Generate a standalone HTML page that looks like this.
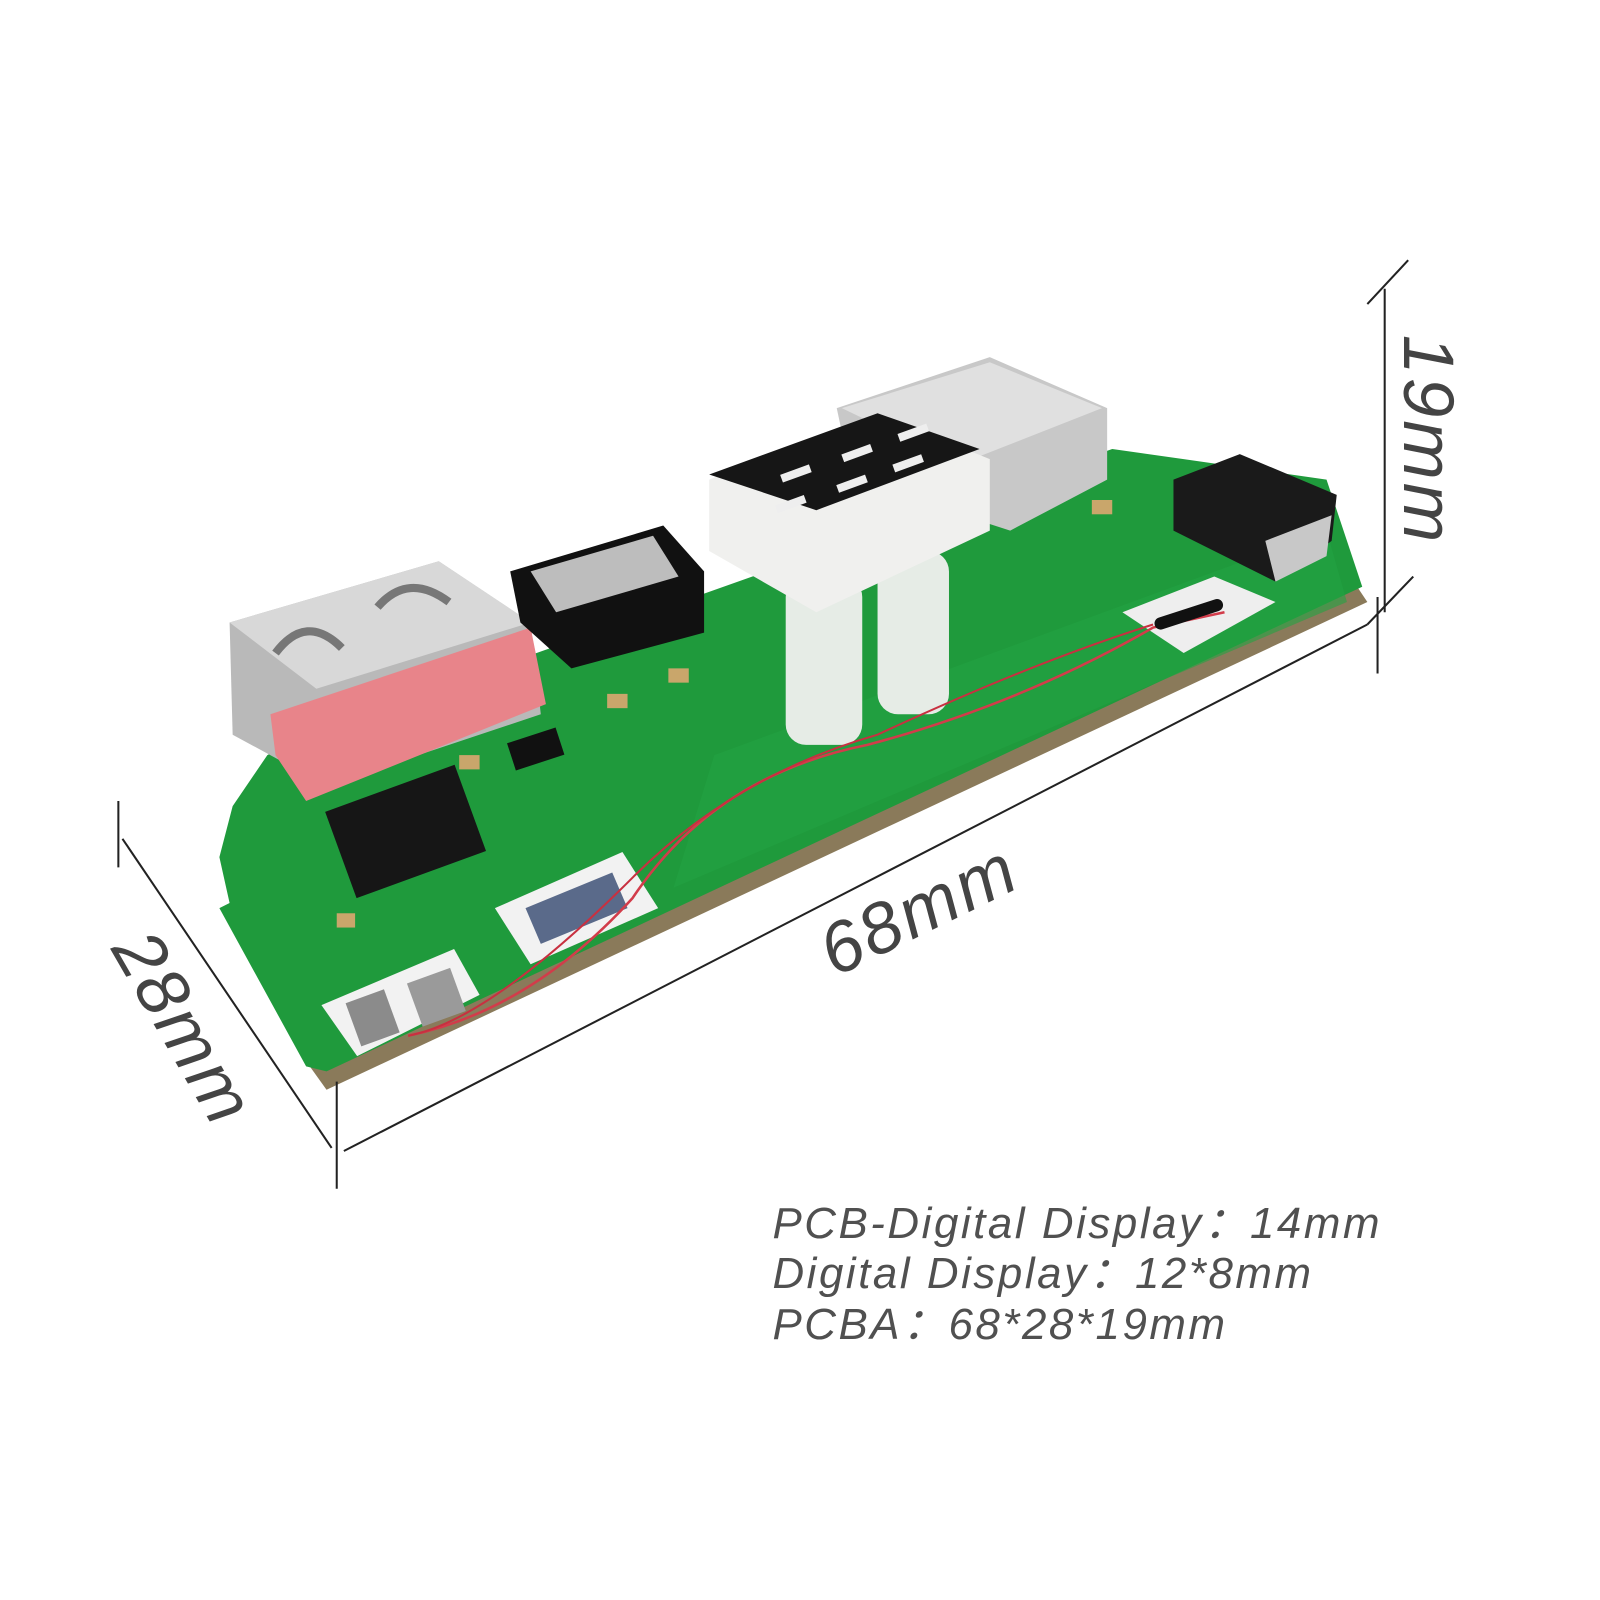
<!DOCTYPE html>
<html><head><meta charset="utf-8"><style>
html,body{margin:0;padding:0;background:#fff;width:1600px;height:1600px;overflow:hidden}
svg{display:block}
</style></head><body>
<svg width="1600" height="1600" viewBox="0 0 1568 1568" xmlns="http://www.w3.org/2000/svg">
<rect x="0" y="0" width="1568" height="1568" fill="#fff"/>
<polygon points="300,1040 320,1068 1340,590 1330,575" fill="#8a7a5a"/>
<path d="M300,1045 L215,890 L225,885 L215,840 L228,790 L262,740 L300,720 L1090,440 L1160,450 L1300,470 L1335,575 L320,1050 Z" fill="#1f9a3c"/>
<path d="M660,870 L1320,590 L1300,520 L700,740 Z" fill="#23a443" opacity="0.6"/>
<polygon points="315,985 445,930 470,975 350,1035" fill="#f2f2f2"/>
<rect x="345" y="975" width="40" height="45" fill="#8b8b8b" transform="rotate(-20 365 997)"/>
<rect x="405" y="955" width="45" height="45" fill="#9a9a9a" transform="rotate(-20 427 977)"/>
<polygon points="485,890 610,835 645,890 520,945" fill="#f2f2f2"/>
<polygon points="515,890 600,855 615,890 530,925" fill="#5a6a8a"/>
<polygon points="1100,600 1190,565 1250,590 1160,640" fill="#eee"/>
<polygon points="225,610 430,550 520,610 530,700 320,770 228,720" fill="#b9b9b9"/>
<polygon points="225,610 430,550 520,610 310,675" fill="#d8d8d8"/>
<path d="M270,640 Q300,600 335,635 M370,595 Q400,560 440,590" stroke="#777" stroke-width="8" fill="none"/>
<polygon points="265,700 520,615 535,690 300,785 270,740" fill="#e8848a"/>
<rect x="330" y="770" width="135" height="90" fill="#161616" transform="rotate(-20 397 815)"/>
<polygon points="500,560 650,515 690,560 690,620 560,655 510,610" fill="#111"/>
<polygon points="520,560 640,525 665,565 545,600" fill="#bdbdbd"/>
<rect x="500" y="720" width="50" height="28" fill="#111" transform="rotate(-18 525 734)"/>
<rect x="770" y="565" width="75" height="165" rx="20" fill="#e6ece6"/>
<rect x="860" y="540" width="70" height="160" rx="20" fill="#e6ece6"/>
<polygon points="820,400 970,350 1085,400 1085,470 990,520 835,470" fill="#c8c8c8"/>
<polygon points="825,400 970,355 1080,400 940,455" fill="#e0e0e0"/>
<polygon points="695,470 860,405 970,450 970,520 800,600 695,540" fill="#f0f0ee"/>
<polygon points="695,465 860,405 960,440 800,500" fill="#161616"/>
<g fill="#eee">
<rect x="765" y="460" width="30" height="8" transform="rotate(-20 780 464)"/>
<rect x="825" y="440" width="30" height="8" transform="rotate(-20 840 444)"/>
<rect x="880" y="420" width="30" height="8" transform="rotate(-20 895 424)"/>
<rect x="760" y="490" width="30" height="8" transform="rotate(-20 775 494)"/>
<rect x="820" y="470" width="30" height="8" transform="rotate(-20 835 474)"/>
<rect x="875" y="450" width="30" height="8" transform="rotate(-20 890 454)"/>
</g>
<polygon points="1150,470 1215,445 1310,485 1305,530 1250,570 1150,520" fill="#1a1a1a"/>
<polygon points="1240,530 1305,505 1300,545 1250,570" fill="#c8c8c8"/>
<g fill="#c9a66b"><rect x="595" y="680" width="20" height="14"/><rect x="655" y="655" width="20" height="14"/><rect x="450" y="740" width="20" height="14"/><rect x="330" y="895" width="18" height="14"/><rect x="1070" y="490" width="20" height="14"/></g>
<path d="M400,1015 Q520,990 620,880 Q700,760 850,730 Q1000,690 1130,615 L1200,600" stroke="#d23c4a" stroke-width="2.5" fill="none"/>
<path d="M400,1015 Q480,1000 620,860 Q720,760 860,720 Q1010,650 1130,612" stroke="#c83040" stroke-width="2" fill="none"/>
<rect x="1130" y="596" width="70" height="12" rx="6" fill="#111" transform="rotate(-18 1165 602)"/>
<g stroke="#222" stroke-width="2" fill="none">
<line x1="337" y1="1128" x2="1340" y2="612"/>
<line x1="330" y1="1060" x2="330" y2="1165"/>
<line x1="1350" y1="585" x2="1350" y2="660"/>
<line x1="120" y1="822" x2="325" y2="1125"/>
<line x1="116" y1="785" x2="116" y2="850"/>
<line x1="1357" y1="283" x2="1357" y2="600"/>
<line x1="1340" y1="298" x2="1380" y2="255"/>
<line x1="1340" y1="612" x2="1385" y2="565"/>
</g>
<g font-family="Liberation Sans, sans-serif" font-style="italic" fill="#444" font-size="70" letter-spacing="3">
<text x="0" y="0" transform="translate(818,958) rotate(-26)">68mm</text>
<text x="0" y="0" transform="translate(108,930) rotate(60)">28mm</text>
<text x="0" y="0" transform="translate(1376,328) rotate(90)">19mm</text>
</g>
<g font-family="Liberation Sans, 'Noto Sans CJK SC', sans-serif" font-style="italic" fill="#505050" font-size="43" letter-spacing="2.5">
<text x="757" y="1213">PCB-Digital Display：14mm</text>
<text x="757" y="1262">Digital Display：12*8mm</text>
<text x="757" y="1312">PCBA：68*28*19mm</text>
</g>
</svg>
</body></html>
